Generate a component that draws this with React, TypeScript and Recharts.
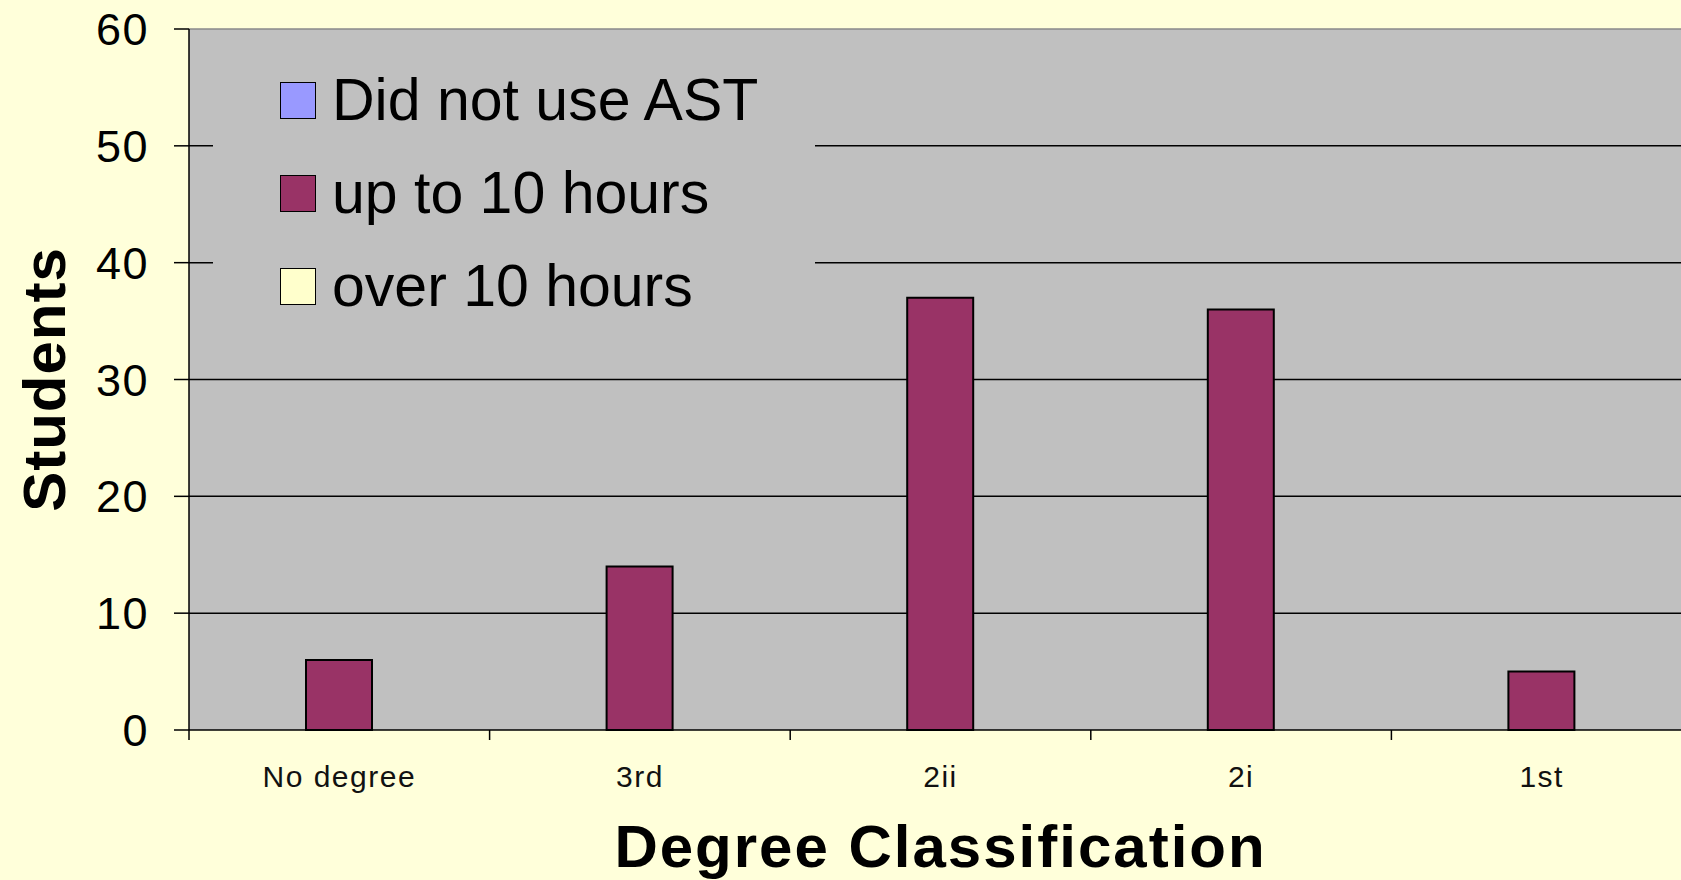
import React from 'react';
import { BarChart, Bar, XAxis, YAxis, CartesianGrid, Legend, ReferenceLine, Label } from 'recharts';

// Degree classification of students, grouped by hours spent using AST
const categories = ['No degree', '3rd', '2ii', '2i', '1st'];
const didNotUse = [0, 0, 0, 0, 0];
const upToTen = [6, 14, 37, 36, 5];
const overTen = [0, 0, 0, 0, 0];
const yTicks = [0, 10, 20, 30, 40, 50, 60];
const gridValues = [10, 20, 30, 40, 50];

const seriesNames = ['Did not use AST', 'up to 10 hours', 'over 10 hours'];
const seriesColors = ['#9999FF', '#993366', '#FFFFCC'];

const data = categories.map((name, i) => ({
  name,
  didNotUse: didNotUse[i],
  upToTen: upToTen[i],
  overTen: overTen[i],
}));

const FONT = '"Liberation Sans", Arial, Helvetica, sans-serif';
const BG = '#FFFFDA';
const PLOT = '#C0C0C0';

const YTick = (props: any) => {
  const { x, y, payload } = props;
  return (
    <text x={x} y={y} dy={16} textAnchor="end" fontFamily={FONT} fontSize={45} letterSpacing={1.5} fill="#000">
      {payload.value}
    </text>
  );
};

const XTick = (props: any) => {
  const { x, y, payload } = props;
  return (
    <text x={x} y={y} textAnchor="middle" fontFamily={FONT} fontSize={30} letterSpacing={1.5} fill="#111">
      {payload.value}
    </text>
  );
};

// Short tick mark under the axis at the left edge of each category band
const BoundaryTick = (props: any) => {
  const { x1, y1, y2 } = props;
  if (x1 == null) return null;
  const yb = Math.max(Number(y1), Number(y2));
  return <line x1={x1} x2={x1} y1={yb} y2={yb + 10} stroke="#000" strokeWidth={1.5} />;
};

const LegendContent = (props: any) => {
  const items = [...(props.payload || [])].sort(
    (a: any, b: any) => seriesNames.indexOf(a.value) - seriesNames.indexOf(b.value)
  );
  return (
    <div style={{ width: '100%', height: '100%', background: PLOT }}>
      {items.map((entry: any) => (
        <div key={entry.value} style={{ height: 93, display: 'flex', alignItems: 'center' }}>
          <div
            style={{
              marginLeft: 67,
              width: 34,
              height: 35,
              background: entry.color,
              border: '1.5px solid #000',
            }}
          />
          <span style={{ marginLeft: 16, fontFamily: FONT, fontSize: 59, lineHeight: 1, color: '#000' }}>
            {entry.value}
          </span>
        </div>
      ))}
    </div>
  );
};

const YTitle = (props: any) => {
  const { viewBox } = props;
  const cy = viewBox.y + viewBox.height / 2;
  const bx = 65;
  return (
    <text
      x={bx}
      y={cy}
      transform={`rotate(-90 ${bx} ${cy})`}
      textAnchor="middle"
      fontFamily={FONT}
      fontWeight="bold"
      fontSize={60}
      letterSpacing={1}
      fill="#000"
    >
      Students
    </text>
  );
};

const XTitle = (props: any) => {
  const { viewBox } = props;
  const cx = viewBox.x + viewBox.width / 2;
  return (
    <text x={cx} y={867} textAnchor="middle" fontFamily={FONT} fontWeight="bold" fontSize={60} letterSpacing={2} fill="#000">
      Degree Classification
    </text>
  );
};

export default function App() {
  return (
    <div
      style={{
        position: 'absolute',
        left: 0,
        top: 0,
        width: 1681,
        height: 880,
        overflow: 'hidden',
        background: BG,
      }}
    >
      <BarChart
        width={1700}
        height={880}
        data={data}
        margin={{ top: 29, right: 8, bottom: 0, left: 0 }}
        barSize={66}
        barGap={0}
      >
        <CartesianGrid
          vertical={false}
          horizontalValues={gridValues}
          stroke="#000"
          strokeWidth={1.5}
          fill={PLOT}
          fillOpacity={1}
        />
        <XAxis
          dataKey="name"
          height={150}
          tickLine={false}
          tickSize={0}
          tickMargin={57}
          axisLine={{ stroke: '#000', strokeWidth: 1.5 }}
          tick={<XTick />}
          interval={0}
        >
          <Label content={<XTitle />} />
        </XAxis>
        <YAxis
          width={189}
          domain={[0, 60]}
          ticks={yTicks}
          tickSize={15}
          tickMargin={25}
          tickLine={{ stroke: '#000', strokeWidth: 1.5 }}
          axisLine={{ stroke: '#000', strokeWidth: 1.5 }}
          tick={<YTick />}
          allowDecimals={false}
        >
          <Label content={<YTitle />} />
        </YAxis>
        <ReferenceLine y={60} stroke="#8A8A8A" strokeWidth={1.5} />
        {categories.map((c) => (
          <ReferenceLine key={c} x={c} position="start" shape={<BoundaryTick />} />
        ))}
        <Bar dataKey="didNotUse" name={seriesNames[0]} fill={seriesColors[0]} stroke="#000" strokeWidth={2} isAnimationActive={false} />
        <Bar dataKey="upToTen" name={seriesNames[1]} fill={seriesColors[1]} stroke="#000" strokeWidth={2} isAnimationActive={false} />
        <Bar dataKey="overTen" name={seriesNames[2]} fill={seriesColors[2]} stroke="#000" strokeWidth={2} isAnimationActive={false} />
        <Legend
          layout="vertical"
          align="center"
          verticalAlign="middle"
          content={<LegendContent />}
          wrapperStyle={{ left: 213, top: 54, width: 602, height: 279 }}
        />
      </BarChart>
    </div>
  );
}
